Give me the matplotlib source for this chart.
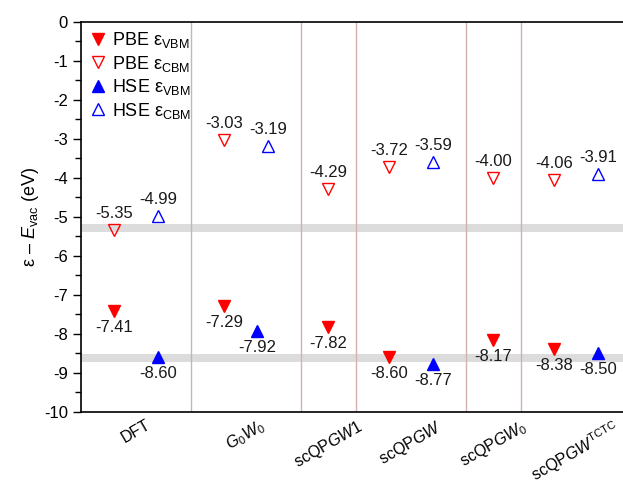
import numpy as np
import matplotlib.pyplot as plt

plt.rcParams['font.family'] = ['Liberation Sans', 'DejaVu Sans']
plt.rcParams['mathtext.fontset'] = 'custom'
plt.rcParams['mathtext.rm'] = 'Liberation Sans'
plt.rcParams['mathtext.it'] = 'Liberation Sans:italic'
plt.rcParams['mathtext.default'] = 'regular'

# data (eV, relative to vacuum)
methods = ['DFT', r'$\mathit{G}_0\mathit{W}_0$', r'scQP$\mathit{GW1}$',
           r'scQP$\mathit{GW}$', r'scQP$\mathit{GW}_0$', r'scQP$\mathit{GW}^{TCTC}$']
pbe_vbm = [-7.41, -7.29, -7.82, -8.60, -8.17, -8.38]
pbe_cbm = [-5.35, -3.03, -4.29, -3.72, -4.00, -4.06]
hse_vbm = [-8.60, -7.92, np.nan, -8.77, np.nan, -8.50]
hse_cbm = [-4.99, -3.19, np.nan, -3.59, np.nan, -3.91]
band_cbm = (-5.39, -5.19)
band_vbm = (-8.72, -8.52)

# layout: category centres and separators
centers = np.array([1, 3, 4.5, 6, 7.5, 9])
separators = [2, 4, 5, 7, 8]
has_hse = ~np.isnan(hse_vbm)
x_pbe = np.where(has_hse, centers - 0.4, centers)
x_hse_cbm = centers + 0.4
x_hse_vbm = centers + np.array([0.4, 0.2, 0.4, 0.4, 0.4, 0.4])

fig = plt.figure(figsize=(6.23, 4.88), dpi=100)
ax = fig.add_axes([0.130, 0.1564, 550 / 623, 0.799])

ax.axhspan(*band_cbm, color='#dcdcdc', lw=0, zorder=0)
ax.axhspan(*band_vbm, color='#dcdcdc', lw=0, zorder=0)
for s in separators:
    ax.axvline(s, color='#d4b0b0', lw=1, zorder=1)

ms = 9
ax.plot(x_pbe, pbe_vbm, 'v', color='red', ms=ms, ls='none', label='PBE ε$_{VBM}$', zorder=3)
ax.plot(x_pbe, pbe_cbm, 'v', mfc='none', mec='red', ms=ms, mew=1, ls='none',
        label='PBE ε$_{CBM}$', zorder=3)
ax.plot(x_hse_vbm, hse_vbm, '^', color='blue', ms=ms, ls='none', label='HSE ε$_{VBM}$', zorder=3)
ax.plot(x_hse_cbm, hse_cbm, '^', mfc='none', mec='blue', ms=ms, mew=1, ls='none',
        label='HSE ε$_{CBM}$', zorder=3)

def label(xs, ys, dy):
    for x, y in zip(xs, ys):
        if np.isnan(y):
            continue
        ax.annotate(f'{y:.2f}', (x, y), xytext=(0, dy), textcoords='offset points',
                    ha='center', va='center', fontsize=12, color='#1a1a1a')

label(x_pbe, pbe_vbm, -12)
label(x_pbe, pbe_cbm, 12)
label(x_hse_vbm, hse_vbm, -12)
label(x_hse_cbm, hse_cbm, 12)

ax.set_xlim(0, 10)
ax.set_ylim(-10, 0)
ax.set_yticks(np.arange(-10, 0.1, 1))
ax.set_yticklabels([f'{v:d}' for v in range(-10, 1)])
ax.set_yticks(np.arange(-9.5, 0, 1), minor=True)
ax.tick_params(axis='y', which='major', length=6, width=1, labelsize=12)
ax.tick_params(axis='y', which='minor', length=4, width=1)
ax.set_xticks(centers)
ax.set_xticklabels(methods, rotation=30, ha='center', va='top', fontsize=11.5)
ax.tick_params(axis='x', length=0, pad=4)
ax.set_ylabel(r'ε – $\mathit{E}_{vac}$ (eV)', fontsize=13, labelpad=2)
for sp in ax.spines.values():
    sp.set_linewidth(1.2)

ax.legend(loc='upper left', bbox_to_anchor=(0.0, 1.0), frameon=False, fontsize=13,
          handlelength=1.0, handletextpad=0.25, labelspacing=0.2, borderaxespad=0.05)

fig.savefig('out.png', dpi=100)
